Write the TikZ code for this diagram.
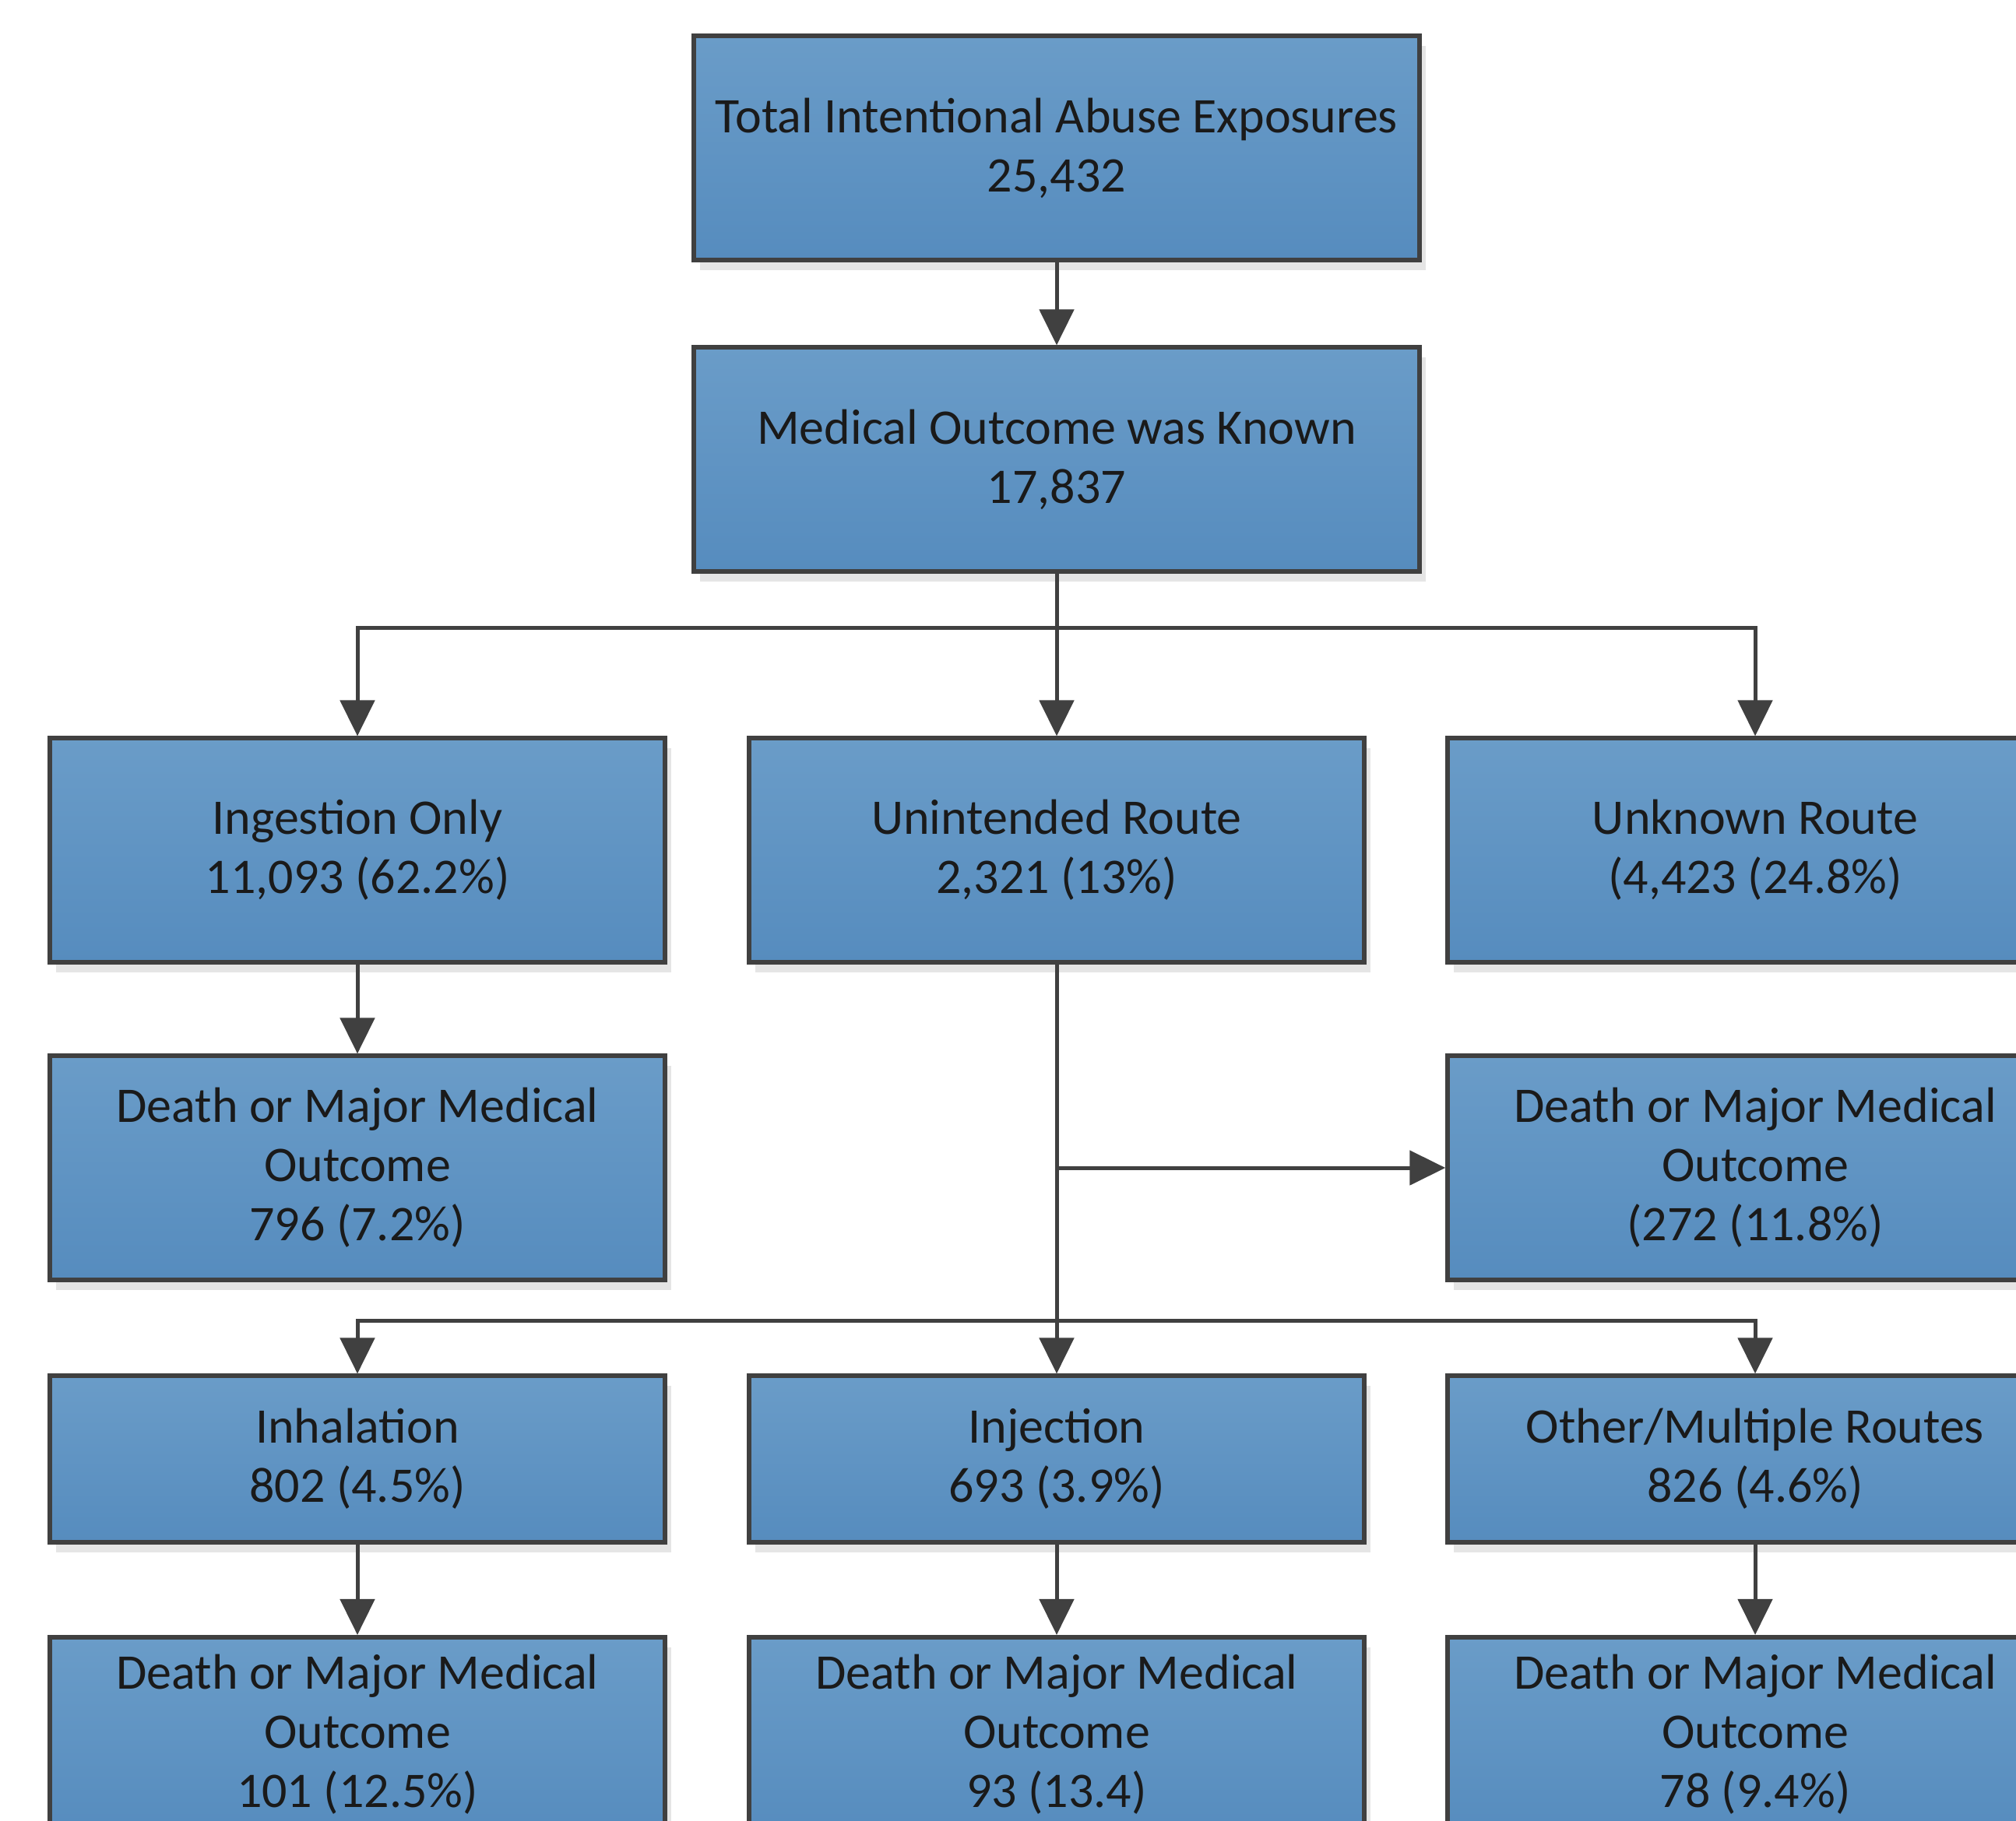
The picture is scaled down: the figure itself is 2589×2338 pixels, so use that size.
\documentclass[tikz,border=0pt]{standalone}
\usepackage{fontspec}
\setmainfont{Carlito}
\usetikzlibrary{arrows.meta,shadows}
\definecolor{edgec}{HTML}{404040}
\definecolor{topblue}{HTML}{6A9CC8}
\definecolor{botblue}{HTML}{568CBE}
\definecolor{txtc}{HTML}{1A1A1A}
\definecolor{shadowgray}{HTML}{E5E5E5}
\begin{document}
\begin{tikzpicture}[x=0.01cm,y=-0.01cm,
 box/.style={draw=edgec, line width=0.06cm, rectangle, top color=topblue, bottom color=botblue,
   minimum width=7.89cm, minimum height=2.87cm, inner sep=0pt, align=center, text=txtc,
   font=\fontsize{18.2pt}{21.6pt}\selectfont,
   drop shadow={shadow xshift=0.08cm, shadow yshift=-0.13cm, fill=shadowgray, opacity=1, draw=none}},
 conn/.style={draw=edgec, line width=0.05cm},
 arr/.style={conn, -{Triangle[length=0.46cm,width=0.44cm]}}]
\useasboundingbox (0,0) rectangle (2589,2338);

\node[box, minimum width=9.31cm] (total) at (1357,190) {Total Intentional Abuse Exposures\\25,432};
\node[box, minimum width=9.31cm] (known) at (1357,590) {Medical Outcome was Known\\17,837};

\node[box] (ingest) at (459,1092) {Ingestion Only\\11,093 (62.2\%)};
\node[box] (unint) at (1357,1092) {Unintended Route\\2,321 (13\%)};
\node[box] (unknown) at (2254,1092) {Unknown Route\\(4,423 (24.8\%)};

\node[box] (ingdeath) at (459,1500) {Death or Major Medical\\Outcome\\796 (7.2\%)};
\node[box] (unintdeath) at (2254,1500) {Death or Major Medical\\Outcome\\(272 (11.8\%)};

\node[box, minimum height=2.13cm] (inhal) at (459,1874) {Inhalation\\802 (4.5\%)};
\node[box, minimum height=2.13cm] (inj) at (1357,1874) {Injection\\693 (3.9\%)};
\node[box, minimum height=2.13cm] (other) at (2254,1874) {Other/Multiple Routes\\826 (4.6\%)};

\node[box, minimum height=2.50cm] (inhaldeath) at (459,2228) {Death or Major Medical\\Outcome\\101 (12.5\%)};
\node[box, minimum height=2.50cm] (injdeath) at (1357,2228) {Death or Major Medical\\Outcome\\93 (13.4)};
\node[box, minimum height=2.50cm] (otherdeath) at (2254,2228) {Death or Major Medical\\Outcome\\78 (9.4\%)};

\coordinate (b1) at (1357,806);
\coordinate (b2) at (1357,1500);
\coordinate (b3) at (1357,1696);

\draw[arr] (total) -- (known);
\draw[conn] (known.south) -- (b1);
\draw[arr] (b1) -| (ingest.north);
\draw[arr] (b1) -| (unknown.north);
\draw[arr] (b1) -- (unint.north);
\draw[arr] (ingest) -- (ingdeath);
\draw[conn] (unint.south) -- (b3);
\draw[arr] (b2) -- (unintdeath.west);
\draw[arr] (b3) -| (inhal.north);
\draw[arr] (b3) -| (other.north);
\draw[arr] (b3) -- (inj.north);
\draw[arr] (inhal) -- (inhaldeath);
\draw[arr] (inj) -- (injdeath);
\draw[arr] (other) -- (otherdeath);
\end{tikzpicture}
\end{document}
